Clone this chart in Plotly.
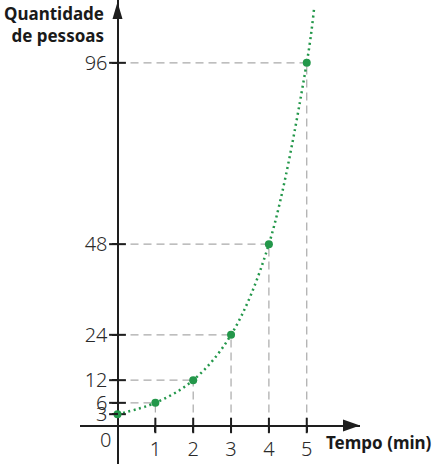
import plotly.graph_objects as go

# ---- data ----
minutes = [0, 1, 2, 3, 4, 5]
people = [3, 6, 12, 24, 48, 96]
curve_end_x = 5.19     # where the dotted curve leaves the picture
curve_end_y = 110
x_ticks = [1, 2, 3, 4, 5]
y_ticks = [3, 6, 12, 24, 48, 96]

# ---- layout constants ----
W, H = 437, 464
L, R, T, B = 80, 77, 0, 0
x_range = [-0.991, 6.407]
y_range = [-10.19, 112.63]

GREEN = "#23974a"
GRAY = "#a9a9a9"
AXIS = "#1e1e1e"
TXT = "#2a2a2a"
FONT = "Noto Sans"
TICK_FONT = dict(family=FONT, size=20, color=TXT, weight=300)

fig = go.Figure()

# dashed guide lines from each point to the axes
for xv, yv in zip(minutes, people):
    if xv == 0:
        continue
    fig.add_shape(type="line", xref="x", yref="y", x0=0, y0=yv, x1=xv, y1=yv,
                  line=dict(color=GRAY, width=1.2, dash="8px,5px"), layer="below")
    fig.add_shape(type="line", xref="x", yref="y", x0=xv, y0=0, x1=xv, y1=yv,
                  line=dict(color=GRAY, width=1.2, dash="8px,5px"), layer="below")

# dotted exponential curve
fig.add_trace(go.Scatter(
    x=minutes + [curve_end_x], y=people + [curve_end_y], mode="lines",
    line=dict(color=GREEN, width=2.5, dash="2px,3.5px", shape="spline"),
    hoverinfo="skip", showlegend=False))

# tick marks crossing the axes
fig.add_trace(go.Scatter(
    x=[0] * len(y_ticks), y=y_ticks, mode="markers",
    marker=dict(symbol="line-ew", size=12, line=dict(color=AXIS, width=2)),
    hoverinfo="skip", showlegend=False, cliponaxis=False))
fig.add_trace(go.Scatter(
    x=x_ticks, y=[0] * len(x_ticks), mode="markers",
    marker=dict(symbol="line-ns", size=11, line=dict(color=AXIS, width=2)),
    hoverinfo="skip", showlegend=False, cliponaxis=False))

# data points
fig.add_trace(go.Scatter(
    x=minutes, y=people, mode="markers",
    marker=dict(color=GREEN, size=8),
    hoverinfo="skip", showlegend=False, cliponaxis=False))

# arrow heads
fig.add_shape(type="path", xref="x", yref="y", xsizemode="pixel", ysizemode="pixel",
              xanchor=x_range[1], yanchor=0, path="M0,0 L-17,6 L-17,-6 Z",
              fillcolor=AXIS, line=dict(width=0))
fig.add_shape(type="path", xref="x", yref="y", xsizemode="pixel", ysizemode="pixel",
              xanchor=0, yanchor=y_range[1], path="M0,-2 L-5,-19 L5,-19 Z",
              fillcolor=AXIS, line=dict(width=0))

x_pos = (0 - y_range[0]) / (y_range[1] - y_range[0])
y_pos = (0 - x_range[0]) / (x_range[1] - x_range[0])

fig.update_xaxes(range=x_range, showgrid=False, zeroline=True, zerolinecolor=AXIS,
                 zerolinewidth=2, showline=False, tickvals=x_ticks,
                 ticktext=[str(v) for v in x_ticks], ticks="outside", ticklen=5,
                 tickwidth=2, tickcolor=AXIS, anchor="free", position=x_pos,
                 automargin=False, tickfont=TICK_FONT, fixedrange=True)
fig.update_yaxes(range=y_range, showgrid=False, zeroline=True, zerolinecolor=AXIS,
                 zerolinewidth=2, showline=False, tickvals=y_ticks,
                 ticktext=[str(v) for v in y_ticks], ticks="outside", ticklen=6,
                 tickwidth=2, tickcolor=AXIS, anchor="free", position=y_pos,
                 automargin=False, tickfont=TICK_FONT, fixedrange=True)

fig.add_annotation(text="<b>Quantidade<br>de pessoas</b>", xref="paper", yref="paper",
                   x=(106 - L) / (W - L - R), y=1.0, xanchor="right", yanchor="top",
                   align="right", showarrow=False,
                   font=dict(family=FONT, size=17, color="#1a1a1a"))
fig.add_annotation(text="<b>Tempo (min)</b>", xref="paper", yref="paper",
                   x=(324 - L) / (W - L - R), y=(H - 442) / H, xanchor="left",
                   yanchor="middle", showarrow=False,
                   font=dict(family=FONT, size=17, color="#1a1a1a"))
fig.add_annotation(text="0", xref="paper", yref="paper",
                   x=(105 - L) / (W - L - R), y=(H - 439) / H, xanchor="center",
                   yanchor="middle", showarrow=False, font=TICK_FONT)

fig.update_layout(width=W, height=H, margin=dict(l=L, r=R, t=T, b=B, autoexpand=False),
                  plot_bgcolor="white", paper_bgcolor="white",
                  hovermode=False, showlegend=False)

fig.write_html("out.html", config={"displayModeBar": False},
               post_script="document.body.style.margin='0';"
                           "document.body.style.overflow='hidden';")
